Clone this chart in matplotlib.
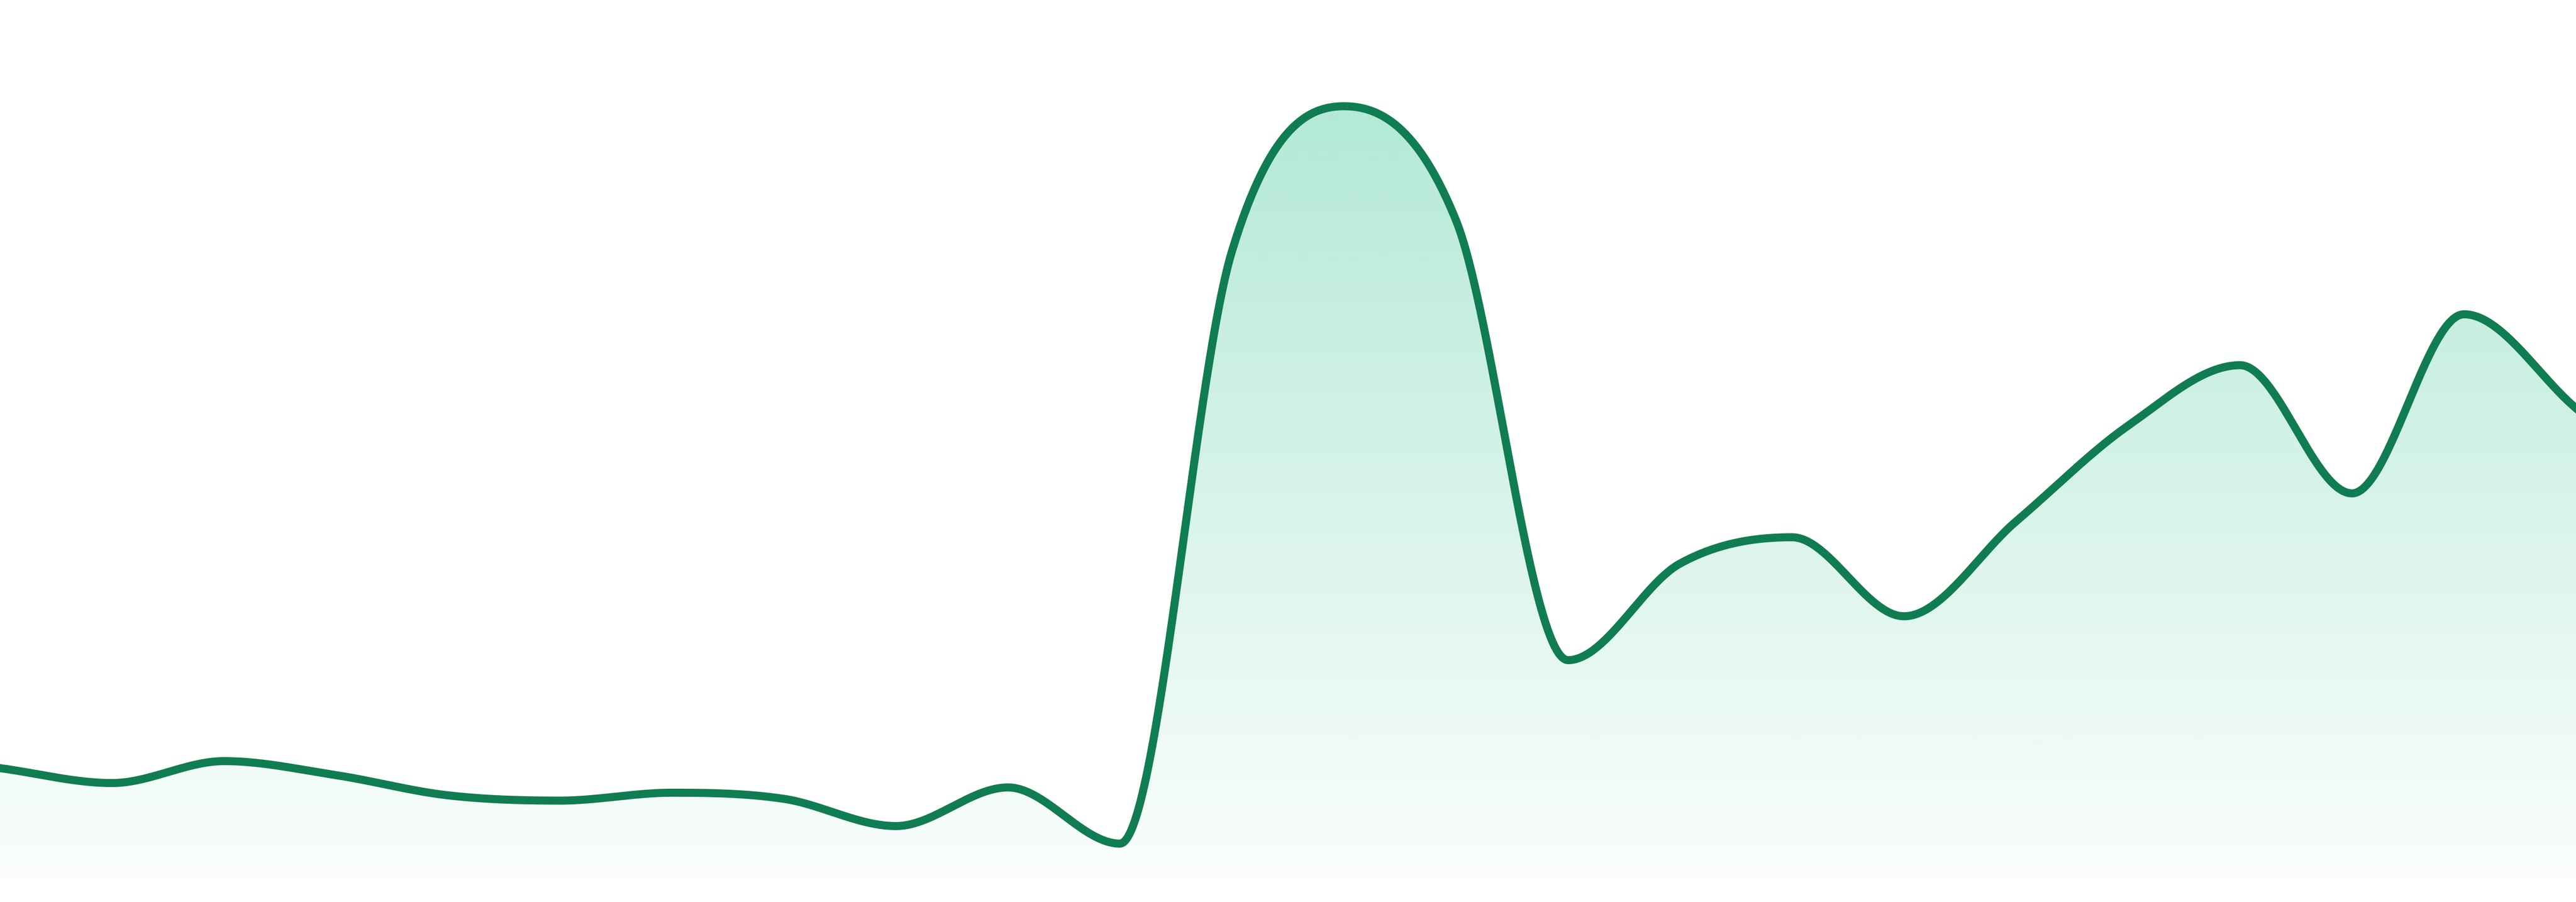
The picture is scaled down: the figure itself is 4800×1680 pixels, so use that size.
import numpy as np
import matplotlib
matplotlib.use("Agg")
import matplotlib.pyplot as plt

# values (arbitrary units, baseline = 0, top of figure = 100)
points = np.arange(24)
values = [12.5, 10.8, 13.3, 11.7, 9.4, 8.8, 9.7, 9.0, 5.9, 10.3, 3.9, 71.4,
          87.9, 74.9, 24.8, 35.8, 38.8, 29.8, 40.6, 51.5, 58.4, 43.8, 64.2, 53.5]

line_color = "#107c52"
fill_rgb = (16 / 255, 185 / 255, 129 / 255)


def monotone(x, y, n=60):
    # Fritsch-Carlson monotone cubic, as in Chart.js cubicInterpolationMode='monotone'
    x = np.asarray(x, float)
    y = np.asarray(y, float)
    h = np.diff(x)
    d = np.diff(y) / h
    m = np.zeros_like(y)
    m[0] = d[0]
    m[-1] = d[-1]
    for i in range(1, len(y) - 1):
        if d[i - 1] == 0 or d[i] == 0 or np.sign(d[i - 1]) != np.sign(d[i]):
            m[i] = 0
        else:
            m[i] = (d[i - 1] + d[i]) / 2
    for i in range(len(d)):
        if d[i] == 0:
            m[i] = m[i + 1] = 0
            continue
        a = m[i] / d[i]
        b = m[i + 1] / d[i]
        sq = a * a + b * b
        if sq <= 9:
            continue
        tau = 3 / np.sqrt(sq)
        m[i] = a * tau * d[i]
        m[i + 1] = b * tau * d[i]
    xs, ys = [], []
    for i in range(len(x) - 1):
        u = np.linspace(0, 1, n, endpoint=False)
        h00 = 2 * u**3 - 3 * u**2 + 1
        h10 = u**3 - 2 * u**2 + u
        h01 = -2 * u**3 + 3 * u**2
        h11 = u**3 - u**2
        xs.append(x[i] + u * h[i])
        ys.append(h00 * y[i] + h10 * h[i] * m[i] + h01 * y[i + 1] + h11 * h[i] * m[i + 1])
    xs.append([x[-1]])
    ys.append([y[-1]])
    return np.concatenate(xs), np.concatenate(ys)


xs, ys = monotone(points, values)

fig = plt.figure(figsize=(16, 5.6), dpi=300, facecolor="white")
ax = fig.add_axes([0, 0, 1, 1])
ax.set_xlim(points[0], points[-1])
ax.set_ylim(-2.75, 100)
ax.axis("off")

# gradient area under the line
poly = ax.fill_between(xs, ys, 0, color="none", lw=0)
grad = np.zeros((256, 1, 4))
grad[:, 0, :3] = fill_rgb
grad[:, 0, 3] = np.linspace(0.36, 0.02, 256)
im = ax.imshow(grad, extent=[points[0], points[-1], 0, 100], aspect="auto",
               origin="upper", interpolation="bilinear", zorder=1)
im.set_clip_path(poly.get_paths()[0], transform=ax.transData)

ax.plot(xs, ys, color=line_color, lw=3.6, solid_joinstyle="round", zorder=2)

fig.savefig("out.png", dpi=300, facecolor="white")
